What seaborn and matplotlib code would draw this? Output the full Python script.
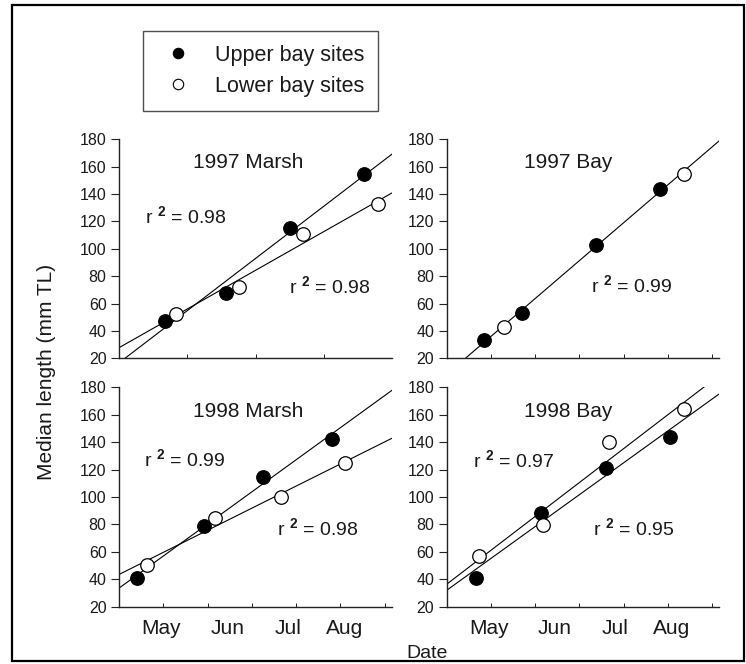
import numpy as np
import pandas as pd
import matplotlib
matplotlib.use("Agg")
import matplotlib.pyplot as plt
import seaborn as sns
from matplotlib.lines import Line2D
from matplotlib.patches import Rectangle

# ---------------- data (x = days from start of axis, y = median length mm TL) -------------
panels = ["1997 Marsh", "1997 Bay", "1998 Marsh", "1998 Bay"]

m97_upper_day = [22.7, 52.9, 84.6, 121.3]
m97_upper_len = [47.3, 67.5, 115.5, 154.4]
m97_lower_day = [28.2, 59.5, 90.9, 128.2]
m97_lower_len = [52.4, 72.4, 110.6, 132.5]

b97_upper_day = [18.6, 37.1, 73.9, 105.5]
b97_upper_len = [33.4, 53.4, 102.8, 143.7]
b97_lower_day = [28.3, 117.4]
b97_lower_len = [43.1, 154.7]

m98_upper_day = [8.8, 42.2, 71.4, 105.2]
m98_upper_len = [40.9, 79.1, 114.8, 142.6]
m98_lower_day = [14.0, 47.5, 80.1, 111.8]
m98_lower_len = [50.4, 84.7, 100.3, 125.1]

b98_upper_day = [14.3, 46.8, 79.1, 110.8]
b98_upper_len = [41.2, 88.1, 120.9, 144.0]
b98_lower_day = [16.1, 47.8, 80.4, 117.4]
b98_lower_len = [57.2, 79.6, 140.1, 164.0]

r2_labels = {
    "1997 Marsh": ["0.98", "0.98"],
    "1997 Bay": ["0.99"],
    "1998 Marsh": ["0.99", "0.98"],
    "1998 Bay": ["0.97", "0.95"],
}
month_labels = ["May", "Jun", "Jul", "Aug"]
month_pos = [21.0, 53.5, 83.5, 111.5]
site_labels = ["Upper bay sites", "Lower bay sites"]

rows = []
for pname, ud, ul, ld, ll in [
    ("1997 Marsh", m97_upper_day, m97_upper_len, m97_lower_day, m97_lower_len),
    ("1997 Bay", b97_upper_day, b97_upper_len, b97_lower_day, b97_lower_len),
    ("1998 Marsh", m98_upper_day, m98_upper_len, m98_lower_day, m98_lower_len),
    ("1998 Bay", b98_upper_day, b98_upper_len, b98_lower_day, b98_lower_len),
]:
    for d, v in zip(ud, ul):
        rows.append((pname, site_labels[0], d, v))
    for d, v in zip(ld, ll):
        rows.append((pname, site_labels[1], d, v))
df = pd.DataFrame(rows, columns=["panel", "site", "day", "length"])

# ---------------- style ----------------
sns.set_theme(style="ticks")
plt.rcParams["font.family"] = ["Liberation Sans", "DejaVu Sans"]
plt.rcParams["mathtext.fontset"] = "custom"
plt.rcParams["mathtext.rm"] = "Liberation Sans"
plt.rcParams["mathtext.bf"] = "Liberation Sans:bold"
plt.rcParams["text.color"] = "#1a1a1a"

W, H = 746, 664
fig = plt.figure(figsize=(W / 100, H / 100), dpi=100)
fig.patch.set_facecolor("white")

def rect(l, r, t, b):
    return [l / W, 1 - b / H, (r - l) / W, (b - t) / H]

axes_px = {
    "1997 Marsh": (119, 392, 139.3, 358.3),
    "1997 Bay": (446.7, 719.3, 139.3, 358.3),
    "1998 Marsh": (119, 392, 387.3, 606.7),
    "1998 Bay": (446.7, 719.3, 387.3, 606.7),
}
title_pos = {
    "1997 Marsh": (0.474, 0.893),
    "1997 Bay": (0.444, 0.893),
    "1998 Marsh": (0.474, 0.889),
    "1998 Bay": (0.444, 0.889),
}
r2_pos = {
    "1997 Marsh": [(0.096, 0.647), (0.622, 0.327)],
    "1997 Bay": [(0.528, 0.331)],
    "1998 Marsh": [(0.092, 0.669), (0.577, 0.357)],
    "1998 Bay": [(0.096, 0.664), (0.537, 0.357)],
}

XMAX = 135.0
face = {site_labels[0]: "black", site_labels[1]: "white"}
axcol = "#222222"

for pname in panels:
    ax = fig.add_axes(rect(*axes_px[pname]))
    ax.set_facecolor("white")
    ax.set_xlim(0, XMAX)
    ax.set_ylim(20, 180)
    sub = df[df["panel"] == pname]

    # regression lines
    if pname == "1997 Bay":
        sns.regplot(data=sub, x="day", y="length", scatter=False, ci=None,
                    truncate=False, ax=ax,
                    line_kws={"color": "black", "lw": 0.8, "zorder": 1})
    else:
        for site in site_labels:
            s = sub[sub["site"] == site]
            sns.regplot(data=s, x="day", y="length", scatter=False, ci=None,
                        truncate=False, ax=ax,
                        line_kws={"color": "black", "lw": 0.8, "zorder": 1})
    # points
    for site in site_labels:
        s = sub[sub["site"] == site]
        sns.scatterplot(data=s, x="day", y="length", ax=ax, s=95,
                        color=face[site], edgecolor="black", linewidth=0.9,
                        zorder=3, legend=False)

    ax.set_xlim(0, XMAX)
    ax.set_ylim(20, 180)
    ax.set_xlabel("")
    ax.set_ylabel("")
    sns.despine(ax=ax)
    for sp in ["left", "bottom"]:
        ax.spines[sp].set_color(axcol)
        ax.spines[sp].set_linewidth(1.0)

    ax.set_yticks(np.arange(20, 181, 20))
    ax.tick_params(axis="y", direction="out", length=6, width=0.8,
                   color=axcol, labelsize=11.5, pad=3, labelcolor="#1a1a1a")
    # tick marks along the date axis
    if pname == "1997 Marsh":
        minor = np.linspace(0, XMAX, 5)[1:-1]
    else:
        minor = np.arange(1, 7) * 21.9
    ax.set_xticks(minor, minor=True)
    ax.tick_params(axis="x", which="minor", direction="in", length=3,
                   width=0.7, color=axcol)
    if pname.startswith("1998"):
        ax.set_xticks(month_pos)
        ax.set_xticklabels(month_labels)
        ax.tick_params(axis="x", which="major", length=0, labelsize=15,
                       pad=9, labelcolor="#1a1a1a")
    else:
        ax.set_xticks([])

    ax.text(*title_pos[pname], pname, transform=ax.transAxes, ha="center",
            va="center", fontsize=15)
    for (tx, ty), lab in zip(r2_pos[pname], r2_labels[pname]):
        ax.text(tx, ty, r"r $^{\mathbf{2}}$ = " + lab, transform=ax.transAxes,
                ha="left", va="center", fontsize=14)

# legend
handles = [
    Line2D([], [], ls="none", marker="o", markersize=7.5, markerfacecolor="black",
           markeredgecolor="black", markeredgewidth=0.8),
    Line2D([], [], ls="none", marker="o", markersize=7.5, markerfacecolor="white",
           markeredgecolor="black", markeredgewidth=0.8),
]
leg = fig.legend(handles, site_labels, loc="upper left",
                 bbox_to_anchor=(142.7 / W, 1 - 31 / H), frameon=True,
                 fancybox=False, edgecolor="#222222", fontsize=15.5,
                 borderpad=0.65, labelspacing=0.45, handlelength=2.0,
                 handletextpad=0.7, borderaxespad=0)
leg.get_frame().set_linewidth(1.0)

fig.text(47 / W, 1 - 372 / H, "Median length (mm TL)", rotation=90,
         ha="center", va="center", fontsize=15)
fig.text(426.7 / W, 1 - 653 / H, "Date", ha="center", va="center", fontsize=14)

fig.patches.append(Rectangle((12 / W, 1 - 661 / H), (744 - 12) / W, (661 - 5) / H,
                             transform=fig.transFigure, fill=False,
                             edgecolor="black", linewidth=1.6))

fig.savefig("out.png", dpi=100, facecolor="white")
